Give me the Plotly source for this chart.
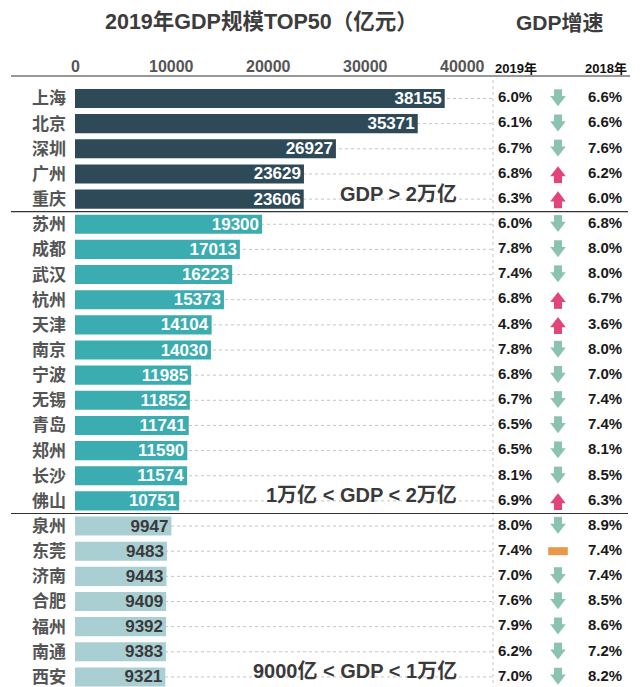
import plotly.graph_objects as go

# ---------------- data ----------------
cities = ["上海", "北京", "深圳", "广州", "重庆", "苏州", "成都", "武汉", "杭州", "天津",
          "南京", "宁波", "无锡", "青岛", "郑州", "长沙", "佛山", "泉州", "东莞", "济南",
          "合肥", "福州", "南通", "西安"]
gdp_2019 = [38155, 35371, 26927, 23629, 23606, 19300, 17013, 16223, 15373, 14104,
            14030, 11985, 11852, 11741, 11590, 11574, 10751, 9947, 9483, 9443,
            9409, 9392, 9383, 9321]
growth_2019 = [6.0, 6.1, 6.7, 6.8, 6.3, 6.0, 7.8, 7.4, 6.8, 4.8, 7.8, 6.8, 6.7, 6.5,
               6.5, 8.1, 6.9, 8.0, 7.4, 7.0, 7.6, 7.9, 6.2, 7.0]
growth_2018 = [6.6, 6.6, 7.6, 6.2, 6.0, 6.8, 8.0, 8.0, 6.7, 3.6, 8.0, 7.0, 7.4, 7.4,
               8.1, 8.5, 6.3, 8.9, 7.4, 7.4, 8.5, 8.6, 7.2, 8.2]
x_ticks = [0, 10000, 20000, 30000, 40000]
group_labels = ["GDP > 2万亿", "1万亿 < GDP < 2万亿", "9000亿 < GDP < 1万亿"]
group_bounds = [20000, 10000, 0]

# ---------------- layout constants ----------------
PAGE_W, PAGE_H = 641, 687
OFF = 8                       # default body margin of the page
W, H = PAGE_W - OFF, PAGE_H - OFF
PX0 = 75.0 - OFF              # figure pixel of value 0
PX_PER = 0.00969              # pixels per unit value
ROW0 = 98.5 - OFF             # figure pixel of first row centre
ROW_H = 25.15                 # pixels per row

X_MIN = -PX0 / PX_PER
X_MAX = (W - PX0) / PX_PER
Y_TOP = -ROW0 / ROW_H
Y_BOT = (H - ROW0) / ROW_H


def px_x(px):  # page pixel -> data x
    return X_MIN + (px - OFF) / W * (X_MAX - X_MIN)


def px_y(py):  # page pixel -> data y
    return Y_TOP + (py - OFF) / ROW_H


COLORS = ["#2e4a58", "#3badb1", "#a9cfd3"]
TEXT_COLORS = ["#ffffff", "#ffffff", "#3a3a3a"]
DOWN_C, UP_C, FLAT_C = "#8cc2b2", "#e2457a", "#e89848"
LATIN = "Liberation Sans, Noto Sans CJK SC, sans-serif"
CJK = "Noto Sans CJK SC, sans-serif"


def group_of(v):
    for gi, b in enumerate(group_bounds):
        if v > b:
            return gi
    return len(group_bounds) - 1


rows = list(range(len(cities)))
groups = [group_of(v) for v in gdp_2019]

fig = go.Figure()

# bars, one trace per group
for gi in range(3):
    idx = [i for i in rows if groups[i] == gi]
    fig.add_trace(go.Bar(
        x=[gdp_2019[i] for i in idx], y=idx, orientation="h",
        width=0.76, marker=dict(color=COLORS[gi], line=dict(width=0)),
        text=[str(gdp_2019[i]) for i in idx], textposition="inside",
        insidetextanchor="end", constraintext="none",
        textfont=dict(family=LATIN, size=17, color=TEXT_COLORS[gi], weight="bold"),
        hoverinfo="skip", showlegend=False,
    ))

# growth columns
COL19, COLARROW, COL18 = px_x(515), px_x(558), px_x(605)
for col, vals in ((COL19, growth_2019), (COL18, growth_2018)):
    fig.add_trace(go.Scatter(
        x=[col] * len(rows), y=rows, mode="text",
        text=[f"{v:.1f}%" for v in vals],
        textfont=dict(family=LATIN, size=15, color="#1a1a1a", weight="bold"),
        hoverinfo="skip", showlegend=False, cliponaxis=False))

# arrows (stem + head)
down = [i for i in rows if growth_2019[i] < growth_2018[i]]
up = [i for i in rows if growth_2019[i] > growth_2018[i]]
flat = [i for i in rows if growth_2019[i] == growth_2018[i]]
STEM_OFF = 4.25 / ROW_H
HEAD_OFF = 1.0 / ROW_H


def add_marks(ys, symbol, size, color, lw=0):
    fig.add_trace(go.Scatter(
        x=[COLARROW] * len(ys), y=ys, mode="markers",
        marker=dict(symbol=symbol, size=size, color=color,
                    line=dict(width=lw, color=color)),
        hoverinfo="skip", showlegend=False, cliponaxis=False))


add_marks([i - STEM_OFF for i in down], "line-ns", 7, DOWN_C, 8)
add_marks([i + HEAD_OFF for i in down], "triangle-down", 13.5, DOWN_C)
add_marks([i + STEM_OFF for i in up], "line-ns", 7, UP_C, 8)
add_marks([i - HEAD_OFF for i in up], "triangle-up", 13.5, UP_C)
add_marks(flat, "line-ew", 14, FLAT_C, 8)

shapes = []
# dotted row gridlines
for i in rows:
    shapes.append(dict(type="line", xref="x", yref="y", x0=0, x1=px_x(493), y0=i, y1=i,
                       line=dict(color="#c4c4c4", width=1, dash="dot"), layer="below"))
# vertical dotted separator
shapes.append(dict(type="line", xref="x", yref="y", x0=px_x(493), x1=px_x(493),
                   y0=px_y(80), y1=Y_BOT, line=dict(color="#c4c4c4", width=1, dash="dot"),
                   layer="below"))
# top line
shapes.append(dict(type="line", xref="x", yref="y", x0=px_x(11), x1=px_x(630),
                   y0=px_y(76), y1=px_y(76), line=dict(color="#333333", width=1.2)))
# group separators
for gi in range(2):
    last = max(i for i in rows if groups[i] == gi)
    shapes.append(dict(type="line", xref="x", yref="y", x0=px_x(11), x1=px_x(628),
                       y0=last + 0.5, y1=last + 0.5, line=dict(color="#333333", width=1.2)))

annotations = []
for gi in range(3):
    last = max(i for i in rows if groups[i] == gi)
    annotations.append(dict(xref="x", yref="y", x=px_x(459), y=last - 0.22,
                            text=group_labels[gi], showarrow=False, xanchor="right",
                            yanchor="middle",
                            font=dict(family=LATIN, size=20, color="#3a3a3a", weight="bold")))
annotations += [
    dict(xref="x", yref="y", x=px_x(261), y=px_y(22), text="2019年GDP规模TOP50（亿元）",
         showarrow=False, font=dict(family=LATIN, size=21.5, color="#3c3c3c", weight="bold")),
    dict(xref="x", yref="y", x=px_x(560), y=px_y(22), text="GDP增速",
         showarrow=False, font=dict(family=LATIN, size=21, color="#3c3c3c", weight="bold")),
    dict(xref="x", yref="y", x=px_x(516), y=px_y(68), text="2019年",
         showarrow=False, font=dict(family=LATIN, size=13, color="#111111", weight="bold")),
    dict(xref="x", yref="y", x=px_x(606), y=px_y(68), text="2018年",
         showarrow=False, font=dict(family=LATIN, size=13, color="#111111", weight="bold")),
]
for t in x_ticks:
    annotations.append(dict(xref="x", yref="y", x=t, y=px_y(66), text=str(t), showarrow=False,
                            font=dict(family=LATIN, size=16, color="#555555", weight="bold")))

fig.update_layout(
    width=W, height=H, margin=dict(l=0, r=0, t=0, b=0),
    paper_bgcolor="white", plot_bgcolor="white",
    barmode="overlay", showlegend=False,
    xaxis=dict(range=[X_MIN, X_MAX], showgrid=False, zeroline=False, showline=False,
               showticklabels=False, fixedrange=True),
    yaxis=dict(range=[Y_BOT, Y_TOP], showgrid=False, zeroline=False, showline=False,
               tickmode="array", tickvals=rows, ticktext=cities, ticks="",
               anchor="free", position=PX0 / W, side="left", ticklabelstandoff=9,
               ticklabeloverflow="allow",
               tickfont=dict(family=CJK, size=17, color="#555555", weight="bold"),
               fixedrange=True),
    shapes=shapes, annotations=annotations,
)

fig.write_html("out.html")
